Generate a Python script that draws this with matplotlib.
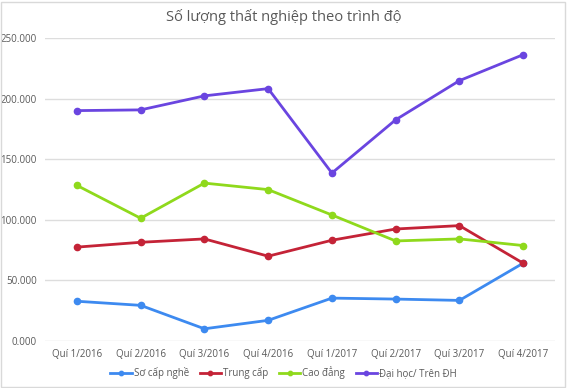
import matplotlib
matplotlib.use("Agg")
import matplotlib.pyplot as plt
from matplotlib.ticker import FuncFormatter
from matplotlib.patches import Rectangle

categories = ["Quí 1/2016", "Quí 2/2016", "Quí 3/2016", "Quí 4/2016",
              "Quí 1/2017", "Quí 2/2017", "Quí 3/2017", "Quí 4/2017"]
so_cap_nghe = [32500, 29100, 9700, 16700, 35100, 34300, 33200, 64000]
trung_cap = [77300, 81300, 84100, 69800, 83000, 92300, 95100, 64000]
cao_dang = [128400, 101200, 130300, 124900, 103900, 82400, 84100, 78600]
dai_hoc = [190300, 190900, 202500, 208500, 138600, 182700, 215100, 236600]
series_names = ["Sơ cấp nghề", "Trung cấp", "Cao đẳng", "Đại học/ Trên ĐH"]
title = "Số lượng thất nghiệp theo trình độ"

colors = ["#3d8af0", "#c42337", "#8fd91c", "#6a45e0"]

plt.rcParams['font.family'] = ['Open Sans', 'DejaVu Sans']

fig = plt.figure(figsize=(5.67, 3.88), dpi=100)
fig.patch.set_facecolor("white")
fig.patches.append(Rectangle((0.002, 0.003), 0.995, 0.993, transform=fig.transFigure,
                             fill=False, edgecolor="#d9d9d9", linewidth=1.0))
ax = fig.add_axes([0.0794, 0.1224, 0.8995, 0.7784])

x = list(range(len(categories)))
for vals, name, c in zip([so_cap_nghe, trung_cap, cao_dang, dai_hoc], series_names, colors):
    ax.plot(x, vals, color=c, linewidth=2.0, marker="o", markersize=4.5, label=name)

ax.set_xlim(-0.5, len(categories) - 0.5)
ax.set_ylim(0, 250000)
ax.set_yticks(range(0, 250001, 50000))
ax.yaxis.set_major_formatter(FuncFormatter(lambda v, p: f"{v/1000:.3f}"))
ax.set_xticks(x)
ax.set_xticklabels(categories)
ax.grid(axis="y", color="#dddddd", linewidth=1.0)
ax.set_axisbelow(True)
for s in ax.spines.values():
    s.set_visible(False)
ax.tick_params(axis="both", length=0, labelsize=7, labelcolor="#595959")
ax.tick_params(axis="y", pad=6)
ax.tick_params(axis="x", pad=6)

fig.text(0.5, 0.955, title, ha="center", va="center", fontsize=10.5, color="#595959")

fig.legend(loc="center", bbox_to_anchor=(0.5, 0.039), ncol=4, frameon=False,
           fontsize=7, labelcolor="#595959", handlelength=2.2, handletextpad=0.2,
           columnspacing=1.1, markerscale=0.7, borderpad=0)

fig.savefig("out.png", dpi=100, facecolor="white")
